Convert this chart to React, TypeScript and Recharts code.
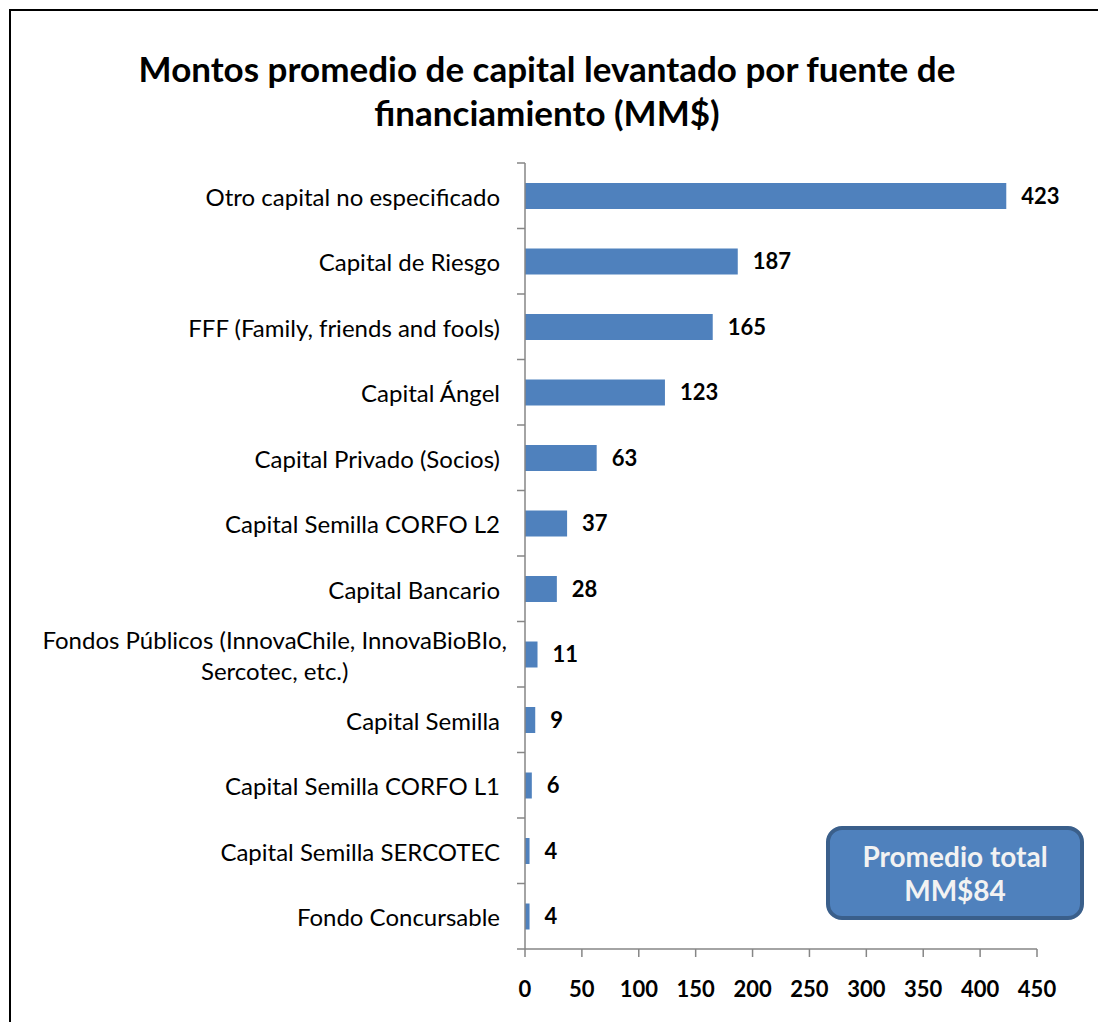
import React from 'react';
import { BarChart, Bar, XAxis, YAxis, LabelList } from 'recharts';

const categories = [
  'Otro capital no especificado',
  'Capital de Riesgo',
  'FFF (Family, friends and fools)',
  'Capital Ángel',
  'Capital Privado (Socios)',
  'Capital Semilla CORFO L2',
  'Capital Bancario',
  'Fondos Públicos (InnovaChile, InnovaBioBIo, Sercotec, etc.)',
  'Capital Semilla',
  'Capital Semilla CORFO L1',
  'Capital Semilla SERCOTEC',
  'Fondo Concursable'
];

const amounts = [423, 187, 165, 123, 63, 37, 28, 11, 9, 6, 4, 4];

const xTicks = [0, 50, 100, 150, 200, 250, 300, 350, 400, 450];

const data = categories.map((name, i) => ({ name, value: amounts[i] }));

const FONT = 'Lato, "Open Sans", sans-serif';
const W = 1098;
const H = 1022;
const AXIS_X = 525;
const PLOT_TOP = 163;
const PLOT_BOTTOM = 949;
const BAND = (PLOT_BOTTOM - PLOT_TOP) / categories.length;
const AXIS_COLOR = '#868686';
const BAR_COLOR = '#4f81bd';
const LABEL_SIZE = 24;

let ctx: CanvasRenderingContext2D | null = null;
function measure(text: string) {
  if (!ctx) ctx = document.createElement('canvas').getContext('2d');
  if (!ctx) return text.length * 11;
  ctx.font = `${LABEL_SIZE}px ${FONT}`;
  return ctx.measureText(text).width;
}

function wrap(label: string, maxChars = 44) {
  const lines: string[] = [];
  let cur = '';
  label.split(' ').forEach((w) => {
    const next = cur ? cur + ' ' + w : w;
    if (next.length > maxChars && cur) {
      lines.push(cur);
      cur = w;
    } else {
      cur = next;
    }
  });
  if (cur) lines.push(cur);
  return lines;
}

function CategoryTick(props: any) {
  const { y, payload, index } = props;
  const lines = wrap(String(payload.value));
  const multi = lines.length > 1;
  const endX = multi ? AXIS_X - 18 : AXIS_X - 25;
  const lineH = 31;
  const widest = Math.max(...lines.map(measure));
  const startY = y - ((lines.length - 1) * lineH) / 2;
  const tx = multi ? endX - widest / 2 : endX;
  return (
    <g>
      <line x1={AXIS_X - 8} x2={AXIS_X} y1={y - BAND / 2} y2={y - BAND / 2} stroke={AXIS_COLOR} strokeWidth={1.5} />
      {index === categories.length - 1 && (
        <line x1={AXIS_X - 8} x2={AXIS_X} y1={y + BAND / 2} y2={y + BAND / 2} stroke={AXIS_COLOR} strokeWidth={1.5} />
      )}
      <text
        x={tx}
        y={startY}
        textAnchor={multi ? 'middle' : 'end'}
        dominantBaseline="central"
        fontFamily={FONT}
        fontSize={LABEL_SIZE}
        fill="#000"
      >
        {lines.map((l, i) => (
          <tspan key={i} x={tx} dy={i === 0 ? 0 : lineH}>
            {l}
          </tspan>
        ))}
      </text>
    </g>
  );
}

export default function App() {
  return (
    <div
      style={{
        position: 'absolute',
        left: 0,
        top: 0,
        width: W,
        height: H,
        overflow: 'hidden',
        background: '#fff',
        fontFamily: FONT
      }}
    >
      <div
        style={{
          position: 'absolute',
          left: 9,
          top: 9,
          width: W + 20,
          height: H + 20,
          borderTop: '2px solid #000',
          borderLeft: '2px solid #000'
        }}
      />
      <div
        style={{
          position: 'absolute',
          left: 0,
          width: 1094,
          top: 46,
          textAlign: 'center',
          fontWeight: 700,
          fontSize: 35,
          lineHeight: '44px',
          color: '#000'
        }}
      >
        Montos promedio de capital levantado por fuente de
        <br />
        financiamiento (MM$)
      </div>
      <div style={{ position: 'absolute', left: 0, top: 0 }}>
        <BarChart
          layout="vertical"
          width={W}
          height={H}
          data={data}
          margin={{ top: PLOT_TOP, right: 61, bottom: 13, left: 0 }}
          barSize={26}
        >
          <XAxis
            type="number"
            domain={[0, 450]}
            ticks={xTicks}
            interval={0}
            height={H - PLOT_BOTTOM - 13}
            axisLine={{ stroke: AXIS_COLOR, strokeWidth: 1.5 }}
            tickLine={{ stroke: AXIS_COLOR, strokeWidth: 1.5 }}
            tickSize={8}
            tickMargin={24}
            tick={{ fill: '#000', fontSize: 22, fontWeight: 700, fontFamily: FONT }}
          />
          <YAxis
            type="category"
            dataKey="name"
            width={AXIS_X}
            interval={0}
            axisLine={{ stroke: AXIS_COLOR, strokeWidth: 1.5 }}
            tickLine={false}
            tick={<CategoryTick />}
          />
          <Bar dataKey="value" fill={BAR_COLOR} isAnimationActive={false}>
            <LabelList
              dataKey="value"
              position="right"
              offset={15}
              fill="#000"
              fontSize={22}
              fontWeight={700}
              fontFamily={FONT}
            />
          </Bar>
        </BarChart>
      </div>
      <div
        style={{
          position: 'absolute',
          left: 826,
          top: 826,
          width: 250,
          height: 86,
          background: BAR_COLOR,
          border: '4px solid #3a5f8b',
          borderRadius: 16,
          display: 'flex',
          flexDirection: 'column',
          alignItems: 'center',
          justifyContent: 'center',
          color: '#f2f2f2',
          fontWeight: 700,
          fontSize: 28,
          lineHeight: '34px'
        }}
      >
        <div>Promedio total</div>
        <div>MM$84</div>
      </div>
    </div>
  );
}
